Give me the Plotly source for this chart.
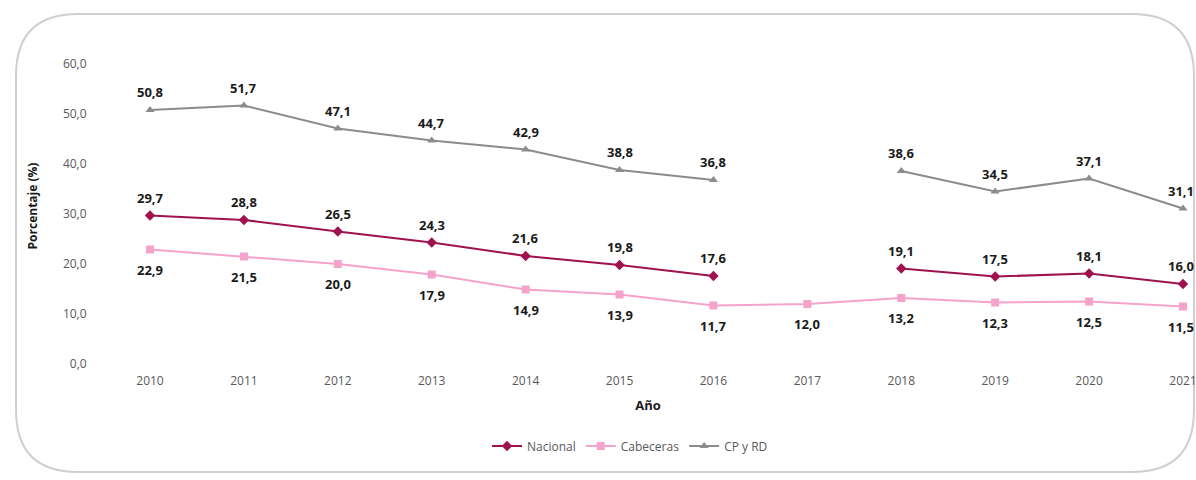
import plotly.graph_objects as go

years = [2010, 2011, 2012, 2013, 2014, 2015, 2016, 2017, 2018, 2019, 2020, 2021]
nacional = [29.7, 28.8, 26.5, 24.3, 21.6, 19.8, 17.6, None, 19.1, 17.5, 18.1, 16.0]
cabeceras = [22.9, 21.5, 20.0, 17.9, 14.9, 13.9, 11.7, 12.0, 13.2, 12.3, 12.5, 11.5]
cpyrd = [50.8, 51.7, 47.1, 44.7, 42.9, 38.8, 36.8, None, 38.6, 34.5, 37.1, 31.1]
y_ticks = [0, 10, 20, 30, 40, 50, 60]

C_NAC = "#a0124f"
C_CAB = "#f5a3cb"
C_CP = "#8c8c8c"

W, H = 1196, 480
L, R, T, B = 100, 0, 40, 108
PW, PH = W - L - R, H - T - B

def fmt(v):
    return f"{v:.1f}".replace(".", ",")

fig = go.Figure()
fig.add_trace(go.Scatter(x=years, y=nacional, name="Nacional", mode="lines+markers",
                         line=dict(color=C_NAC, width=2.2),
                         marker=dict(symbol="diamond", size=8, color=C_NAC),
                         connectgaps=False))
fig.add_trace(go.Scatter(x=years, y=cabeceras, name="Cabeceras", mode="lines+markers",
                         line=dict(color=C_CAB, width=2),
                         marker=dict(symbol="square", size=8, color=C_CAB)))
fig.add_trace(go.Scatter(x=years, y=cpyrd, name="CP y RD", mode="lines+markers",
                         line=dict(color=C_CP, width=2),
                         marker=dict(symbol="triangle-up", size=8, color=C_CP),
                         connectgaps=False))

annotations = []
lab_font = dict(family="Open Sans, DejaVu Sans, sans-serif", size=13, color="#1a1a1a")
for series, shift in ((cpyrd, 18), (nacional, 18), (cabeceras, -20)):
    for i, (x, v) in enumerate(zip(years, series)):
        if v is None:
            continue
        xs = -2 if i == len(years) - 1 else 0
        annotations.append(dict(x=x, y=v, xref="x", yref="y", text=f"<b>{fmt(v)}</b>",
                                showarrow=False, yshift=shift, xshift=xs, font=lab_font))

# rounded frame (pixel coords -> paper)
def px(x):
    return (x - L) / PW
def py(y):
    return (H - B - y) / PH

x0, x1, y0, y1, r = 16, 1194, 14, 472, 62
path = (f"M {px(x0)},{py(y0 + r)} Q {px(x0)},{py(y0)} {px(x0 + r)},{py(y0)} "
        f"L {px(x1 - r)},{py(y0)} Q {px(x1)},{py(y0)} {px(x1)},{py(y0 + r)} "
        f"L {px(x1)},{py(y1 - r)} Q {px(x1)},{py(y1)} {px(x1 - r)},{py(y1)} "
        f"L {px(x0 + r)},{py(y1)} Q {px(x0)},{py(y1)} {px(x0)},{py(y1 - r)} Z")

fig.update_layout(
    width=W, height=H,
    margin=dict(l=L, r=R, t=T, b=B),
    paper_bgcolor="white", plot_bgcolor="white",
    separators=",.",
    font=dict(family="Open Sans, DejaVu Sans, sans-serif", size=12, color="#595959"),
    showlegend=True,
    legend=dict(orientation="h", x=px(630), xanchor="center", y=py(446), yanchor="middle",
                font=dict(size=12, color="#595959"), itemwidth=30),
    annotations=annotations,
    shapes=[dict(type="path", xref="paper", yref="paper", path=path,
                 line=dict(color="#cfcfcf", width=2), layer="below")],
)

slope = (1183 - 150) / 11
xa = 2010 - (150 - L) / slope
xb = xa + PW / slope
fig.update_xaxes(range=[xa, xb], tickvals=years, ticktext=[str(y) for y in years],
                 showgrid=False, zeroline=False, showline=False,
                 ticklabeloverflow="allow",
                 tickfont=dict(size=12, color="#595959"),
                 title=dict(text="<b>Año</b>", font=dict(size=13, color="#1a1a1a"), standoff=12))
fig.update_yaxes(range=[-1.6, 64.8], tickvals=y_ticks, tickformat=".1f",
                 showgrid=False, zeroline=False, showline=False,
                 ticks="outside", ticklen=10, tickcolor="rgba(0,0,0,0)",
                 tickfont=dict(size=12, color="#595959"),
                 title=dict(text="<b>Porcentaje (%)</b>", font=dict(size=12, color="#1a1a1a"), standoff=22))

fig.write_html("out.html",
               config={"displayModeBar": False},
               post_script="document.body.style.margin='0';document.body.style.overflow='hidden';")
